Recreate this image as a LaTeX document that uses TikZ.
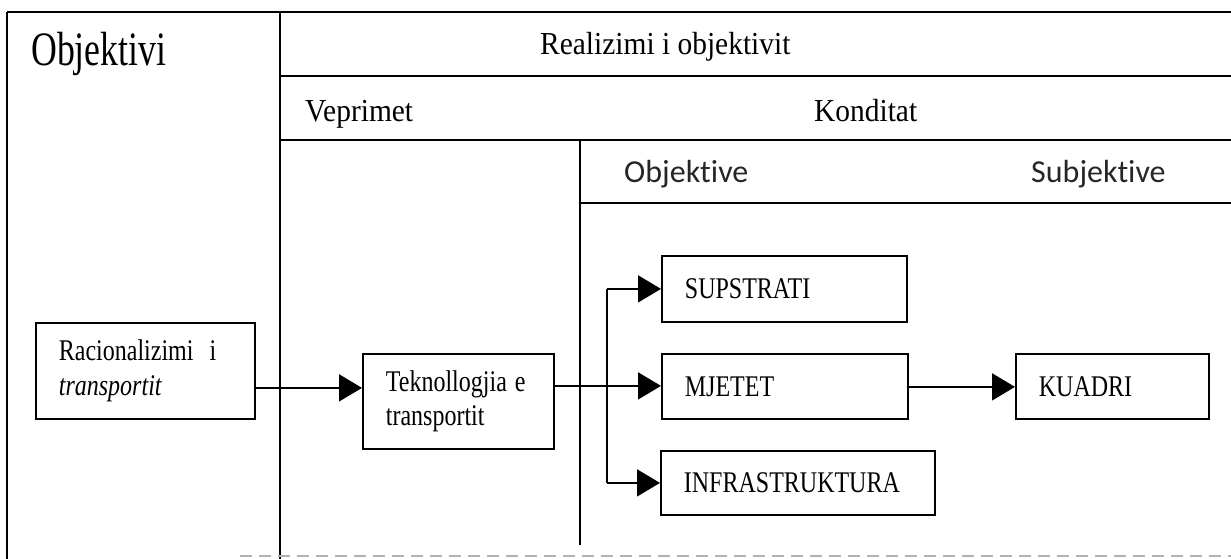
\documentclass[tikz,border=0pt]{standalone}
\usepackage{fontspec}
\usepackage{graphicx}
\setmainfont{Liberation Serif}
\newfontfamily\calibrifont[Ligatures=NoCommon]{Carlito}
\usetikzlibrary{arrows.meta,calc}

\tikzset{
  rule/.style={line width=1.8pt},
  heavyrule/.style={line width=2.6pt},
  faintrule/.style={line width=1.4pt, draw=black!30, dash pattern=on 12pt off 7pt},
  headtext/.style={anchor=base west, inner sep=0pt, font=\fontsize{32}{38}\selectfont},
  subhead/.style={anchor=base west, inner sep=0pt, font=\calibrifont\fontsize{32}{38}\selectfont, text=black!85},
  stage/.style={draw, line width=1.8pt, rectangle, anchor=north west,
    inner xsep=23pt, inner ysep=0pt, align=left, font=\fontsize{30}{34.5}\selectfont},
  plain/.style={line width=1.8pt},
  link/.style={plain, -{Triangle[length=23pt,width=27pt]}},
}
\newcommand\narrowtext[1]{\scalebox{0.8}[1]{#1}}
\newcommand\headscale[1]{\scalebox{0.92}[1]{#1}}

\begin{document}
\begin{tikzpicture}[x=1pt,y=-1pt]
\useasboundingbox (0,0) rectangle (1231,559);

% table frame
\draw[rule] (7,12) -- (1231,12);
\draw[rule] (7,12) -- (7,559);
\draw[rule] (280,12) -- (280,559);
\draw[rule] (280,76) -- (1231,76);
\draw[rule] (280,140) -- (1231,140);
\draw[rule] (580,140) -- (580,545);
\draw[heavyrule] (580,203) -- (1231,203);
\draw[faintrule] (240,556) -- (1231,556);

% column headings
\node[headtext, font=\fontsize{48}{56}\selectfont] (objektivi) at (31,66) {\scalebox{0.745}[1]{Objektivi}};
\node[headtext] (realizimi) at (540,55) {\headscale{Realizimi i objektivit}};
\node[headtext] (veprimet) at (305,122) {\headscale{Veprimet}};
\node[headtext] (konditat) at (814,122) {\headscale{Konditat}};
\node[subhead] (objektive) at (624,182) {Objektive};
\node[subhead] (subjektive) at (1031,182) {Subjektive};

% stages
\node[stage, minimum width=219pt, minimum height=96pt, text width=173pt] (rac) at (35,322)
  {\narrowtext{\begin{tabular}{@{}l@{}}Racionalizimi\ \ i\\ \textit{transportit}\end{tabular}}};
\node[stage, minimum width=191pt, minimum height=95pt, text width=145pt] (tek) at (362,353)
  {\narrowtext{\begin{tabular}{@{}l@{}}Teknollogjia e\\ transportit\end{tabular}}};
\node[stage, minimum width=245pt, minimum height=66pt, text width=199pt] (sup) at (661,255)
  {\narrowtext{SUPSTRATI}};
\node[stage, minimum width=246pt, minimum height=65pt, text width=200pt] (mje) at (661,353)
  {\narrowtext{MJETET}};
\node[stage, minimum width=274pt, minimum height=64pt, text width=228pt] (inf) at (660,450)
  {\narrowtext{INFRASTRUKTURA}};
\node[stage, minimum width=193pt, minimum height=65pt, text width=147pt] (kua) at (1015,353)
  {\narrowtext{KUADRI}};

% connectors
\draw[link] ([yshift=-17pt]rac.east) -- ([yshift=-17pt]rac.east -| tek.west);
\draw[link] ([yshift=15.5pt]tek.east) -- ([yshift=15.5pt]tek.east -| mje.west);
\coordinate (fork) at (607,385);
\draw[plain] (fork |- sup.west) -- (fork |- inf.west);
\draw[link] (fork |- sup.west) -- (sup.west);
\draw[link] (fork |- inf.west) -- (inf.west);
\draw[link] ([yshift=-0.5pt]mje.east) -- ([yshift=-0.5pt]mje.east -| kua.west);
\end{tikzpicture}
\end{document}
